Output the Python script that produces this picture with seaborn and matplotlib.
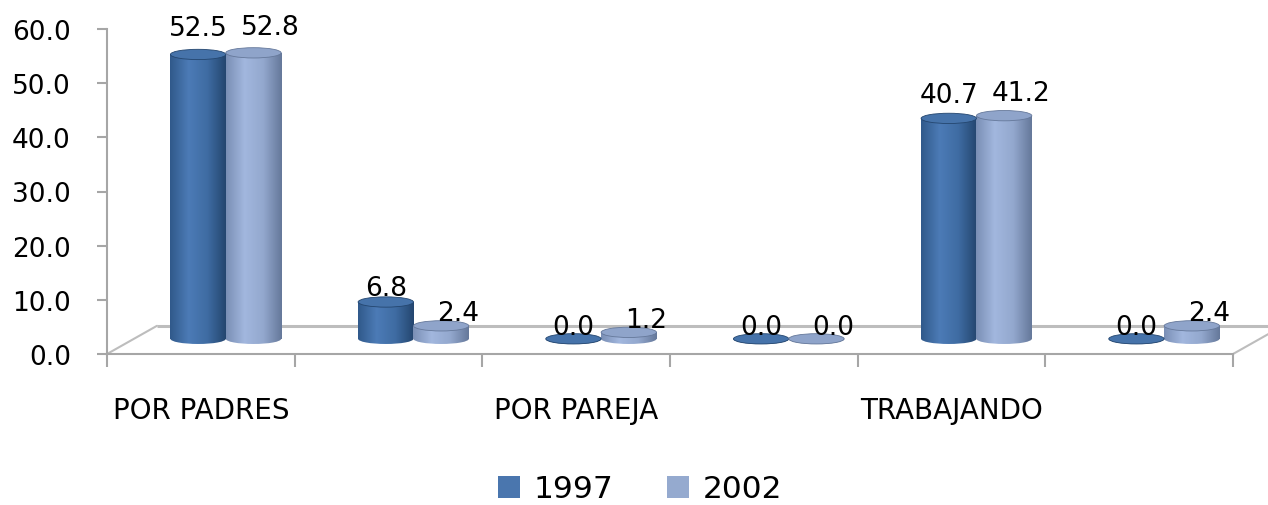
import numpy as np
import pandas as pd
import matplotlib
matplotlib.use("Agg")
import matplotlib.pyplot as plt
import seaborn as sns
from matplotlib.patches import Ellipse, Patch
from matplotlib.colors import LinearSegmentedColormap

# ---------------- data ----------------
categories = ["POR PADRES", "CATEGORÍA 2", "POR PAREJA", "CATEGORÍA 4", "TRABAJANDO", "CATEGORÍA 6"]
tick_labels = ["POR PADRES", "", "POR PAREJA", "", "TRABAJANDO", ""]
years = ["1997", "2002"]
values_1997 = [52.5, 6.8, 0.0, 0.0, 40.7, 0.0]
values_2002 = [52.8, 2.4, 1.2, 0.0, 41.2, 2.4]
y_ticks = [0, 10, 20, 30, 40, 50, 60]

# ---------------- style ----------------
sns.set_style("white")
plt.rcParams["font.family"] = ["DejaVu Sans"]
plt.rcParams["text.color"] = "black"
plt.rcParams["xtick.color"] = "black"
plt.rcParams["ytick.color"] = "black"

colors = {"1997": "#4A76AE", "2002": "#95AACF"}
grad_stops = {
    "1997": ["#30598A", "#4C7BB6", "#3F6CA3", "#24466F"],
    "2002": ["#7A8FB5", "#A2B7DE", "#93A8CE", "#65789A"],
}
top_colors = {"1997": "#4673AA", "2002": "#8FA4CA"}
axis_gray = "#A6A6A6"
floor_gray = "#BDBDBD"

df = pd.DataFrame({
    "category": categories * 2,
    "year": [years[0]] * len(categories) + [years[1]] * len(categories),
    "value": values_1997 + values_2002,
})

W, H = 1268, 506
fig = plt.figure(figsize=(W / 100, H / 100), dpi=100)
ax = fig.add_axes([107 / W, 1 - 355 / H, (1233 - 107) / W, 325 / H])

sns.barplot(data=df, x="category", y="value", hue="year", order=categories,
            hue_order=years, palette=colors, width=0.59, dodge=True,
            legend=False, ax=ax, errorbar=None, saturation=1, zorder=3)

# 3D-like geometry (in data units)
dx = 0.133          # depth shift right
base = 2.8          # bar base lifted onto the floor
ell_h = 1.9         # ellipse height of cylinder caps
depth_x, depth_y = 0.266, 5.2

# floor lines
ax.plot([-0.5 + depth_x, 5.5 + depth_x * 2], [depth_y, depth_y], color=floor_gray,
        lw=2.2, clip_on=False, zorder=1, solid_capstyle="butt")
ax.plot([-0.5, -0.5 + depth_x], [0, depth_y], color=floor_gray, lw=1.5, clip_on=False, zorder=1)
ax.plot([5.5, 5.5 + depth_x], [0, depth_y], color=floor_gray, lw=1.5, clip_on=False, zorder=1)

for yi, (year, cont) in enumerate(zip(years, ax.containers)):
    cmap = LinearSegmentedColormap.from_list(year, grad_stops[year])
    grad = np.linspace(0, 1, 256)[None, :]
    for rect in cont.patches:
        w = rect.get_width()
        x0 = rect.get_x() + dx
        h = rect.get_height()
        rect.set_x(x0)
        rect.set_y(base)
        rect.set_edgecolor("none")
        cx = x0 + w / 2
        # body gradient
        im = ax.imshow(grad, cmap=cmap, aspect="auto",
                       extent=[x0, x0 + w, base - ell_h / 2, base + h], zorder=4,
                       interpolation="bilinear")
        im.set_clip_path(rect)
        bottom = Ellipse((cx, base), w, ell_h, facecolor="none", edgecolor="none", zorder=4)
        ax.add_patch(bottom)
        im2 = ax.imshow(grad, cmap=cmap, aspect="auto",
                        extent=[x0, x0 + w, base - ell_h / 2, base + h], zorder=4,
                        interpolation="bilinear")
        im2.set_clip_path(bottom)
        top = Ellipse((cx, base + h), w, ell_h, facecolor=top_colors[year],
                      edgecolor=grad_stops[year][3], lw=0.6, zorder=5)
        ax.add_patch(top)
        # value label
        val = h
        lx = cx + (0.09 if yi == 1 else 0.0)
        ax.text(lx, val * 1.05 + 2.6, f"{val:.1f}", ha="center", va="bottom",
                fontsize=19, color="black", zorder=6)

# axes
ax.set_xlim(-0.5, 5.5)
ax.set_ylim(0, 60)
ax.set_yticks(y_ticks, labels=[f"{t:.1f}" for t in y_ticks])
ax.set_xticks(np.arange(len(categories) + 1) - 0.5, labels=[""] * (len(categories) + 1))
ax.set_xticks(np.arange(len(categories)), labels=tick_labels, minor=True)
ax.tick_params(axis="x", which="major", length=9, width=1.5, color=axis_gray, direction="out", bottom=True)
ax.tick_params(axis="x", which="minor", length=0, pad=30, labelsize=20, labelcolor="black")
ax.tick_params(axis="y", length=7, width=1.5, color=axis_gray, direction="out", left=True,
               pad=19, labelsize=19, labelcolor="black")
ax.set_xlabel("")
ax.set_ylabel("")
for s in ["top", "right"]:
    ax.spines[s].set_visible(False)
for s in ["left", "bottom"]:
    ax.spines[s].set_color(axis_gray)
    ax.spines[s].set_linewidth(1.5)

handles = [Patch(facecolor=colors[y], edgecolor="none", label=y) for y in years]
fig.legend(handles=handles, loc="center", bbox_to_anchor=(640 / W, 1 - 490 / H), ncol=2,
           frameon=False, fontsize=22.5, handlelength=0.7, handleheight=0.7,
           handletextpad=0.45, columnspacing=1.7, labelcolor="black")

fig.savefig("out.png", dpi=100)
